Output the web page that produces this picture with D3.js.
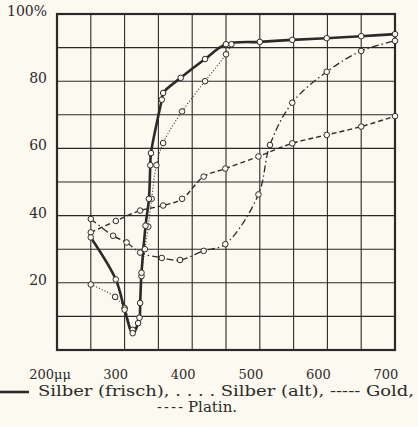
<!DOCTYPE html>
<html>
<head>
<meta charset="utf-8">
<script src="https://cdn.jsdelivr.net/npm/d3@7"></script>
<style>
html,body{margin:0;padding:0;background:#fcf9f1;}
svg{display:block;}
</style>
</head>
<body>
<svg id="chart" width="418" height="427"></svg>
<script>
// ---- data (wavelength in µµ, reflectivity in %) ----
const xTicks = [200, 300, 400, 500, 600, 700];
const yTicks = [20, 40, 60, 80, 100];

const silberFrischNm  = [250, 287, 300, 312, 322, 323, 325, 331, 336, 338, 339, 355, 357, 383, 419, 450, 500, 548, 599, 650, 700];
const silberFrischPct = [33.5, 21, 12, 5, 9.6, 14, 23, 37, 45, 55, 58.6, 74.5, 76.5, 81, 86.6, 91, 91.7, 92.3, 92.8, 93.4, 94];

const silberAltNm  = [250, 286, 300, 312, 320, 325, 330, 335, 340, 347, 357, 385, 419, 450, 458];
const silberAltPct = [19.5, 15.8, 12.5, 6, 8, 22, 30, 36.7, 45, 55, 61.6, 71, 80, 88, 91];

const goldNm  = [250, 283, 303, 323, 355, 382, 417, 449, 498, 515, 548, 599, 650, 700];
const goldPct = [39, 34, 32, 29, 27.4, 26.8, 29.5, 31.5, 46.3, 61, 73.6, 82.8, 89, 92];

const platinNm  = [250, 287, 323, 357, 385, 417, 449, 498, 548, 599, 650, 700];
const platinPct = [35, 38.4, 41.5, 43, 45, 51.6, 54, 57.6, 61.5, 64, 66.5, 69.6];

// ---- drawing ----
const ink = "#2b2a28";
const bg = "#fcf9f1";
const svg = d3.select("#chart");
const x = d3.scaleLinear().domain([200, 700]).range([57, 395]);
const y = d3.scaleLinear().domain([0, 100]).range([350, 14]);
const serif = "DejaVu Serif";

// grid
svg.append("g").selectAll("line.v").data(d3.range(200, 701, 50)).join("line")
  .attr("x1", d => x(d)).attr("x2", d => x(d)).attr("y1", y(0)).attr("y2", y(100))
  .attr("stroke", ink).attr("stroke-width", 1.1);
svg.append("g").selectAll("line.h").data(d3.range(0, 101, 10)).join("line")
  .attr("x1", x(200)).attr("x2", x(700)).attr("y1", d => y(d)).attr("y2", d => y(d))
  .attr("stroke", ink).attr("stroke-width", 1.1);
svg.append("rect").attr("x", x(200)).attr("y", y(100))
  .attr("width", x(700) - x(200)).attr("height", y(0) - y(100))
  .attr("fill", "none").attr("stroke", ink).attr("stroke-width", 2.2);

// y tick labels
svg.append("g").selectAll("text").data(yTicks).join("text")
  .attr("x", 47).attr("y", d => y(d) - 2)
  .attr("text-anchor", "end").attr("dominant-baseline", "middle")
  .attr("font-family", serif).attr("font-size", 14).attr("fill", ink)
  .text(d => d === 100 ? "100%" : d);

// x tick labels
svg.append("g").selectAll("text").data(xTicks).join("text")
  .attr("x", d => d === 200 ? x(d) - 7 : x(d) - 9).attr("y", 375)
  .attr("text-anchor", "middle").attr("dominant-baseline", "middle")
  .attr("font-family", serif).attr("font-size", 13).attr("fill", ink)
  .text(d => d === 200 ? d + "\u03bc\u03bc" : d);

// series
const series = [
  {nm: platinNm, pct: platinPct, dash: "5,3", w: 1.4},
  {nm: goldNm, pct: goldPct, dash: "7,3,1.5,3", w: 1.3},
  {nm: silberAltNm, pct: silberAltPct, dash: "1,2", w: 1.1},
  {nm: silberFrischNm, pct: silberFrischPct, dash: null, w: 2.6}
];
const line = d3.line().x(d => x(d[0])).y(d => y(d[1])).curve(d3.curveCatmullRom.alpha(0.5));
series.forEach(s => {
  const pts = s.nm.map((v, i) => [v, s.pct[i]]);
  svg.append("path").datum(pts).attr("d", line)
    .attr("fill", "none").attr("stroke", ink).attr("stroke-width", s.w)
    .attr("stroke-dasharray", s.dash);
});
series.forEach(s => {
  const pts = s.nm.map((v, i) => [v, s.pct[i]]);
  svg.append("g").selectAll("circle").data(pts).join("circle")
    .attr("cx", d => x(d[0])).attr("cy", d => y(d[1])).attr("r", 2.8)
    .attr("fill", bg).attr("stroke", ink).attr("stroke-width", 1);
});

// legend
svg.append("line").attr("x1", 0).attr("x2", 29).attr("y1", 392).attr("y2", 392)
  .attr("stroke", ink).attr("stroke-width", 2.6);
svg.append("text").attr("x", 38).attr("y", 392).attr("dominant-baseline", "middle")
  .attr("font-family", serif).attr("font-size", 14).attr("fill", ink)
  .attr("textLength", 376).attr("lengthAdjust", "spacingAndGlyphs")
  .text("Silber (frisch),  . . . .  Silber (alt),  -----  Gold,");
svg.append("text").attr("x", 157).attr("y", 408).attr("dominant-baseline", "middle")
  .attr("font-family", serif).attr("font-size", 14).attr("fill", ink)
  .attr("textLength", 26).attr("lengthAdjust", "spacing")
  .text("- - - -");
svg.append("text").attr("x", 188).attr("y", 408).attr("dominant-baseline", "middle")
  .attr("font-family", serif).attr("font-size", 15).attr("fill", ink)
  .text("Platin.");
</script>
</body>
</html>
